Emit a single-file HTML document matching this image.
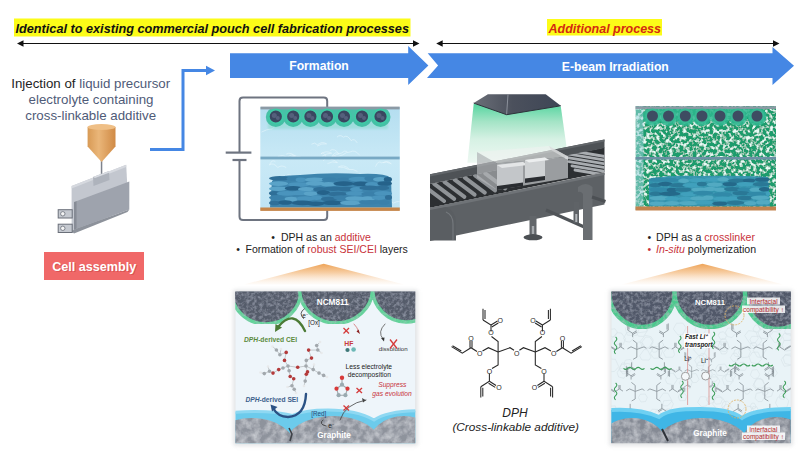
<!DOCTYPE html>
<html><head><meta charset="utf-8">
<style>
html,body{margin:0;padding:0;background:#fff;}
body{width:800px;height:461px;overflow:hidden;position:relative;font-family:"Liberation Sans",sans-serif;}
svg{position:absolute;left:0;top:0;}
text{font-family:"Liberation Sans",sans-serif;}
</style></head><body>
<svg width="800" height="461" viewBox="0 0 800 461">
<defs>
  <linearGradient id="beam" x1="0" y1="0" x2="0" y2="1">
    <stop offset="0" stop-color="#55d5a0"/>
    <stop offset="0.3" stop-color="#a4e4c6"/>
    <stop offset="0.6" stop-color="#d6f1e4"/>
    <stop offset="1" stop-color="#edf8f2"/>
  </linearGradient>
  <linearGradient id="emit" x1="0" y1="0" x2="1" y2="0">
    <stop offset="0" stop-color="#6b6f78"/>
    <stop offset="0.45" stop-color="#4b505c"/>
    <stop offset="1" stop-color="#3e4656"/>
  </linearGradient>
  <linearGradient id="tri" x1="0" y1="0" x2="0" y2="1">
    <stop offset="0" stop-color="#eea458"/>
    <stop offset="0.45" stop-color="#f7cfa6"/>
    <stop offset="1" stop-color="#fdf3ea" stop-opacity="0.3"/>
  </linearGradient>
  <linearGradient id="elec" x1="0" y1="0" x2="0" y2="1">
    <stop offset="0" stop-color="#b4def0"/>
    <stop offset="0.5" stop-color="#c9e9f6"/>
    <stop offset="1" stop-color="#bfe4f4"/>
  </linearGradient>
  <linearGradient id="noz" x1="0" y1="0" x2="1" y2="0">
    <stop offset="0" stop-color="#d89a55"/>
    <stop offset="0.4" stop-color="#eab679"/>
    <stop offset="1" stop-color="#d08a45"/>
  </linearGradient>
  <filter id="rock" x="0" y="0" width="1" height="1">
    <feTurbulence type="fractalNoise" baseFrequency="0.3" numOctaves="3" seed="11" result="t"/>
    <feColorMatrix in="t" type="matrix" values="0 0 0 0 0.46  0 0 0 0 0.5  0 0 0 0 0.6  1.0 0 0 0 -0.4" result="w"/>
    <feComposite in="w" in2="SourceGraphic" operator="in" result="wc"/>
    <feMerge><feMergeNode in="SourceGraphic"/><feMergeNode in="wc"/></feMerge>
  </filter>
  <filter id="rock2" x="0" y="0" width="1" height="1">
    <feTurbulence type="fractalNoise" baseFrequency="0.15" numOctaves="3" seed="4" result="t"/>
    <feColorMatrix in="t" type="matrix" values="0 0 0 0 0.72  0 0 0 0 0.74  0 0 0 0 0.78  1.2 0 0 0 -0.4" result="w"/>
    <feComposite in="w" in2="SourceGraphic" operator="in" result="wc"/>
    <feMerge><feMergeNode in="SourceGraphic"/><feMergeNode in="wc"/></feMerge>
  </filter>
  <filter id="speck" x="0" y="0" width="1" height="1">
    <feTurbulence type="fractalNoise" baseFrequency="0.3" numOctaves="2" seed="7" result="t"/>
    <feColorMatrix in="t" type="matrix" values="0 0 0 0 0.8  0 0 0 0 0.96  0 0 0 0 0.92  4 0 0 0 -1.85" result="w"/>
    <feComposite in="w" in2="SourceGraphic" operator="in" result="wc"/>
    <feMerge><feMergeNode in="SourceGraphic"/><feMergeNode in="wc"/></feMerge>
  </filter>
  <filter id="soft" x="-0.2" y="-0.2" width="1.4" height="1.4"><feGaussianBlur stdDeviation="1.2"/></filter>
  <filter id="soft2" x="-0.2" y="-0.2" width="1.4" height="1.4"><feGaussianBlur stdDeviation="0.6"/></filter>
  <filter id="shadow" x="-0.1" y="-0.1" width="1.2" height="1.2"><feGaussianBlur stdDeviation="2"/></filter>
  <clipPath id="cL"><rect x="235.3" y="291.5" width="180" height="151.7"/></clipPath>
  <clipPath id="cR"><rect x="611.3" y="291.5" width="179.5" height="151.7"/></clipPath>
  <clipPath id="cFC"><rect x="260.3" y="106" width="139.5" height="104"/></clipPath>
  <clipPath id="cRC"><rect x="635.5" y="106" width="140.5" height="104"/></clipPath>
<g id="dphL">
  <polyline points="498.1,352 498.1,341.6 491.5,336.5"/>
  <polyline points="491,331.5 491,325 483,320"/>
  <line x1="483" y1="320" x2="483" y2="308.7"/><line x1="485" y1="319" x2="485" y2="310"/>
  <line x1="491" y1="325" x2="497.5" y2="321"/><line x1="491.8" y1="327" x2="498.3" y2="323"/>
  <polyline points="498.1,352 488.4,347.7 482.5,351"/>
  <polyline points="477,351.5 471,347.7 462.3,353.1 451.5,346.6"/>
  <line x1="461.3" y1="351" x2="452.5" y2="345.7"/>
  <line x1="470" y1="347.7" x2="470" y2="341"/><line x1="472" y1="347.7" x2="472" y2="341"/>
  <polyline points="498.1,352 510,347.7 514,350.3"/>
  <polyline points="498.1,352 498.1,365 492,368.5"/>
  <polyline points="489.4,373.5 489.4,381.3 480.8,386.7"/>
  <line x1="480.8" y1="386.7" x2="480.8" y2="397.6"/><line x1="482.8" y1="387.7" x2="482.8" y2="396.6"/>
  <line x1="489.4" y1="381.3" x2="496" y2="385.5"/><line x1="488.6" y1="383.2" x2="495.2" y2="387.4"/>
</g>
  <g id="dphF"><use href="#dphL"/><use href="#dphL" transform="translate(1033.4,0) scale(-1,1)"/></g>
</defs>


<rect x="14" y="18.5" width="396.5" height="18" fill="#fcfc18"/>
<text x="15.5" y="33" font-size="12.7" font-weight="bold" font-style="italic" fill="#111">Identical to existing commercial pouch cell fabrication processes</text>
<rect x="547" y="19" width="115" height="16.5" fill="#fcfc18"/>
<text x="548.5" y="32.5" font-size="12.5" font-weight="bold" font-style="italic" fill="#d42a10">Additional process</text>
<g stroke="#111" stroke-width="1.2">
<line x1="22" y1="43.5" x2="414" y2="43.5"/>
<line x1="441" y1="43.5" x2="774" y2="43.5"/>
</g>
<g fill="#111">
<polygon points="17,43.5 23.5,40.3 23.5,46.7"/>
<polygon points="419.5,43.5 413,40.3 413,46.7"/>
<polygon points="436.2,43.5 442.7,40.3 442.7,46.7"/>
<polygon points="779.5,43.5 773,40.3 773,46.7"/>
</g>
<polygon points="230,53.2 408.2,53.2 408.2,46 428.4,65.4 408.2,85 408.2,77.9 230,77.9" fill="#4587e4"/>
<polygon points="427.7,53.2 772.5,53.2 772.5,47 794,65.7 772.5,85 772.5,78 427,78 438.1,65.4" fill="#4587e4"/>
<text x="319" y="70.2" font-size="12.2" font-weight="bold" fill="#fff" text-anchor="middle">Formation</text>
<text x="615.3" y="71" font-size="12.2" font-weight="bold" fill="#fff" text-anchor="middle">E-beam Irradiation</text>


<g font-size="13.3" text-anchor="middle">
<text x="90.7" y="88"><tspan fill="#1e1e1e">Injection of </tspan><tspan fill="#4f5b78">liquid precursor</tspan></text>
<text x="91" y="104" fill="#4f5b78">electrolyte containing</text>
<text x="90.7" y="120" fill="#4f5b78">cross-linkable additive</text>
</g>
<polyline points="150,149.4 183,149.4 183,70.5 208,70.5" fill="none" stroke="#4587e4" stroke-width="3"/>
<polygon points="206,65.8 215,70.5 206,75.2" fill="#4587e4"/>
<!-- nozzle -->
<rect x="100.8" y="158" width="1.5" height="16" fill="#7d828c"/>
<path d="M87.6,127 L87.6,146.5 L101.6,162 L115.5,146.5 L115.5,127 Z" fill="url(#noz)"/>
<ellipse cx="101.5" cy="127" rx="14" ry="3" fill="#efbf86"/>
<!-- pouch cell -->
<polygon points="71.6,186 126.2,164.8 127.5,190 127.5,209 71.6,233" fill="#c3c7cf"/>
<polygon points="71.6,186 126.2,164.8 126.2,167 71.6,188.5" fill="#d6d9df"/>
<polygon points="93,177 109,171 109.5,180 93.5,186" fill="#aeb3bc"/>
<polygon points="93,177 109,171 111,172 95,178" fill="#d9dce2"/>
<polygon points="76.8,201 129.3,181.5 129.3,209.5 76.8,228.5" fill="#9ea3ad"/>
<polygon points="74,202 76.8,201 76.8,228.5 74,230" fill="#878c96"/>
<polygon points="74,202 126.5,182.5 129.3,181.5 76.8,201" fill="#c9cdd4"/>
<polygon points="71.6,231 76.8,228.5 129.3,209.5 127.5,212 74,233.5" fill="#8d929b"/>
<g fill="#c5c9d0" stroke="#6a6f79" stroke-width="1">
<rect x="58.2" y="209.7" width="14" height="8.3"/>
<rect x="58.2" y="224.2" width="14" height="8.3"/>
</g>
<g fill="#f4f4f4" stroke="#6a6f79" stroke-width="0.8">
<circle cx="62.8" cy="213.8" r="2.2"/><circle cx="62.8" cy="228.3" r="2.2"/>
</g>
<!-- cell assembly -->
<rect x="44" y="252" width="100" height="28" fill="#f06868"/>
<text x="94.8" y="271.3" font-size="12.6" font-weight="bold" fill="#c84848" text-anchor="middle" opacity="0.6" transform="translate(0.6,0.6)">Cell assembly</text>
<text x="94.2" y="270.8" font-size="12.6" font-weight="bold" fill="#fff" text-anchor="middle">Cell assembly</text>


<g fill="none" stroke="#6e7480" stroke-width="2">
  <path d="M327.2,107 L327.2,101 Q327.2,97.6 323.8,97.6 L243,97.6 Q239.5,97.6 239.5,101 L239.5,152.6"/>
  <path d="M239.5,160 L239.5,216.5 Q239.5,220 243,220 L323.8,220 Q327.2,220 327.2,216.5 L327.2,210"/>
</g>
<g stroke="#6e7480" stroke-width="2.2">
  <line x1="225.7" y1="152.6" x2="251.4" y2="152.6"/>
  <line x1="232.5" y1="160" x2="246.5" y2="160"/>
</g>
<rect x="260.3" y="107" width="139.5" height="103" fill="url(#elec)"/>
<g clip-path="url(#cFC)">

<path d="M311.5,144.2 q3.0,-2.4 6.0,0.6 q4.6,-3.9 9.1,-0.9 q-4.7,-0.8 -9.4,2.2" stroke="#e6f6fc" stroke-width="0.9" fill="none" opacity="0.7"/>
<path d="M348.0,192.3 q-3.8,0.9 -7.6,3.9 q5.4,-5.7 10.9,-2.7 q-4.5,-6.0 -8.9,-3.0" stroke="#e6f6fc" stroke-width="0.9" fill="none" opacity="0.7"/>
<path d="M338.4,160.2 q-3.3,-6.4 -6.7,-3.4 q3.6,-6.0 7.2,-3.0 q-4.5,-6.2 -9.0,-3.2" stroke="#e6f6fc" stroke-width="0.9" fill="none" opacity="0.7"/>
<path d="M280.7,197.2 q3.0,-4.5 6.1,-1.5 q-4.4,-3.5 -8.7,-0.5 q-4.9,-4.6 -9.8,-1.6" stroke="#e6f6fc" stroke-width="0.9" fill="none" opacity="0.7"/>
<path d="M326.1,157.2 q-2.6,-6.4 -5.1,-3.4 q5.3,-3.6 10.7,-0.6 q-4.7,0.0 -9.5,3.0" stroke="#e6f6fc" stroke-width="0.9" fill="none" opacity="0.7"/>
<path d="M347.2,151.4 q-2.9,-1.3 -5.8,1.7 q-4.7,0.9 -9.3,3.9 q4.6,-1.8 9.2,1.2" stroke="#e6f6fc" stroke-width="0.9" fill="none" opacity="0.7"/>
<path d="M316.4,193.0 q-5.4,-5.2 -10.8,-2.2 q3.6,-1.6 7.2,1.4 q3.7,-6.3 7.5,-3.3" stroke="#e6f6fc" stroke-width="0.9" fill="none" opacity="0.7"/>
<path d="M348.9,168.8 q-5.3,-4.8 -10.6,-1.8 q5.2,-0.5 10.4,2.5 q4.4,-1.0 8.7,2.0" stroke="#e6f6fc" stroke-width="0.9" fill="none" opacity="0.7"/>
<path d="M357.2,142.9 q-3.0,-5.2 -6.0,-2.2 q-3.9,-6.5 -7.8,-3.5 q-3.2,-3.1 -6.4,-0.1" stroke="#e6f6fc" stroke-width="0.9" fill="none" opacity="0.7"/>
<path d="M277.9,156.4 q4.7,-2.2 9.3,0.8 q4.6,-3.9 9.3,-0.9 q3.6,-0.4 7.1,2.6" stroke="#e6f6fc" stroke-width="0.9" fill="none" opacity="0.7"/>
<path d="M285.0,183.5 q-4.9,-6.7 -9.7,-3.7 q4.5,-5.3 9.0,-2.3 q3.7,-4.7 7.4,-1.7" stroke="#e6f6fc" stroke-width="0.9" fill="none" opacity="0.7"/>
<path d="M295.7,156.0 q-3.2,-0.0 -6.4,3.0 q3.3,-4.6 6.7,-1.6 q-4.9,-6.2 -9.8,-3.2" stroke="#e6f6fc" stroke-width="0.9" fill="none" opacity="0.7"/>
<path d="M323.1,160.9 q4.0,-4.7 7.9,-1.7 q3.2,0.5 6.5,3.5 q-5.0,-2.1 -10.0,0.9" stroke="#e6f6fc" stroke-width="0.9" fill="none" opacity="0.7"/>
<path d="M391.8,190.5 q-4.1,-3.7 -8.2,-0.7 q4.0,-2.4 8.0,0.6 q-3.8,-5.2 -7.6,-2.2" stroke="#e6f6fc" stroke-width="0.9" fill="none" opacity="0.7"/>
<path d="M375.5,166.6 q2.9,-6.8 5.9,-3.8 q5.0,-2.0 9.9,1.0 q-4.2,-3.9 -8.3,-0.9" stroke="#e6f6fc" stroke-width="0.9" fill="none" opacity="0.7"/>
<path d="M286.2,167.6 q-4.3,-3.1 -8.5,-0.1 q-4.2,-5.5 -8.4,-2.5 q3.0,-6.3 6.1,-3.3" stroke="#e6f6fc" stroke-width="0.9" fill="none" opacity="0.7"/>
<path d="M347.6,199.9 q-5.1,-1.3 -10.1,1.7 q2.8,-0.6 5.6,2.4 q4.1,-1.6 8.3,1.4" stroke="#e6f6fc" stroke-width="0.9" fill="none" opacity="0.7"/>
<path d="M359.8,155.4 q-4.9,-6.4 -9.8,-3.4 q-3.7,-0.1 -7.3,2.9 q-3.0,0.3 -6.0,3.3" stroke="#e6f6fc" stroke-width="0.9" fill="none" opacity="0.7"/>
<path d="M270.5,127.1 q3.4,-4.4 6.8,-1.4 q-2.5,0.2 -5.1,3.2 q-5.4,0.2 -10.8,3.2" stroke="#e6f6fc" stroke-width="0.9" fill="none" opacity="0.7"/>
<path d="M380.9,202.1 q3.3,-4.2 6.7,-1.2 q3.0,-0.8 6.0,2.2 q4.8,-3.1 9.6,-0.1" stroke="#e6f6fc" stroke-width="0.9" fill="none" opacity="0.7"/>
<rect x="268" y="119" width="120" height="10" fill="#7fd8c4" opacity="0.45" filter="url(#soft)"/>

<g fill="#36bc9c" filter="url(#soft2)" opacity="0.85"><circle cx="275.8" cy="117" r="10"/><circle cx="293.2" cy="117" r="10"/><circle cx="310.4" cy="117" r="10"/><circle cx="327" cy="117" r="10"/><circle cx="344" cy="117" r="10"/><circle cx="362" cy="117" r="10"/><circle cx="380.5" cy="117" r="10"/><rect x="276" y="108" width="104" height="10"/></g>
<rect x="260.3" y="106.6" width="139.5" height="2.8" fill="#8c9aa5"/>
<g fill="#3a4760" stroke="#3fcaa6" stroke-width="1.8">

<circle cx="275.8" cy="116.5" r="7"/>
<circle cx="293.2" cy="116.5" r="7"/>
<circle cx="310.4" cy="116.5" r="7"/>
<circle cx="327" cy="116.5" r="7"/>
<circle cx="344" cy="116.5" r="7"/>
<circle cx="362" cy="116.5" r="7"/>
<circle cx="380.5" cy="116.5" r="7"/>
</g><g fill="#55607c">
<circle cx="274.3" cy="115.5" r="2.5"/><circle cx="277.8" cy="118" r="2"/>
<circle cx="291.7" cy="115.5" r="2.5"/><circle cx="295.2" cy="118" r="2"/>
<circle cx="308.9" cy="115.5" r="2.5"/><circle cx="312.4" cy="118" r="2"/>
<circle cx="325.5" cy="115.5" r="2.5"/><circle cx="329" cy="118" r="2"/>
<circle cx="342.5" cy="115.5" r="2.5"/><circle cx="346" cy="118" r="2"/>
<circle cx="360.5" cy="115.5" r="2.5"/><circle cx="364" cy="118" r="2"/>
<circle cx="379.0" cy="115.5" r="2.5"/><circle cx="382.5" cy="118" r="2"/>
</g>

<rect x="260.3" y="156.6" width="139.5" height="2.8" fill="#78a9c4"/>
<path d="M272,181 Q278,175 300,175 Q330,172 360,174 Q385,173 391,178 L392,207.5 L270,207.5 Z" fill="#3d84ad"/>

<ellipse cx="279.7" cy="178.3" rx="10.7" ry="2.3" fill="#2f6f98"/>
<ellipse cx="292.4" cy="178.6" rx="6.0" ry="2.3" fill="#3a80aa"/>
<ellipse cx="300.8" cy="179.8" rx="5.2" ry="2.3" fill="#4a94bd"/>
<ellipse cx="314.7" cy="179.7" rx="9.8" ry="2.3" fill="#5aa3c8"/>
<ellipse cx="329.5" cy="179.6" rx="7.7" ry="2.3" fill="#3a80aa"/>
<ellipse cx="343.7" cy="179.7" rx="7.2" ry="2.3" fill="#3a80aa"/>
<ellipse cx="358.7" cy="179.1" rx="10.3" ry="2.3" fill="#4a94bd"/>
<ellipse cx="369.5" cy="178.5" rx="5.1" ry="2.3" fill="#3a80aa"/>
<ellipse cx="380.2" cy="179.3" rx="7.2" ry="2.3" fill="#5aa3c8"/>
<ellipse cx="387.9" cy="179.4" rx="4.1" ry="2.3" fill="#25628a"/>
<ellipse cx="278.6" cy="183.6" rx="9.6" ry="2.3" fill="#5aa3c8"/>
<ellipse cx="298.8" cy="184.5" rx="10.8" ry="2.3" fill="#4a94bd"/>
<ellipse cx="315.1" cy="183.4" rx="9.4" ry="2.3" fill="#5aa3c8"/>
<ellipse cx="328.5" cy="184.3" rx="8.0" ry="2.3" fill="#5aa3c8"/>
<ellipse cx="343.7" cy="183.6" rx="10.3" ry="2.3" fill="#25628a"/>
<ellipse cx="360.6" cy="183.8" rx="8.3" ry="2.3" fill="#25628a"/>
<ellipse cx="372.0" cy="184.4" rx="6.9" ry="2.3" fill="#4a94bd"/>
<ellipse cx="384.7" cy="183.5" rx="7.3" ry="2.3" fill="#25628a"/>
<ellipse cx="278.2" cy="188.7" rx="9.2" ry="2.3" fill="#5aa3c8"/>
<ellipse cx="293.4" cy="188.3" rx="8.7" ry="2.3" fill="#25628a"/>
<ellipse cx="306.1" cy="189.2" rx="8.1" ry="2.3" fill="#5aa3c8"/>
<ellipse cx="320.1" cy="189.3" rx="7.0" ry="2.3" fill="#2f6f98"/>
<ellipse cx="333.2" cy="188.7" rx="9.5" ry="2.3" fill="#2f6f98"/>
<ellipse cx="345.9" cy="189.0" rx="8.6" ry="2.3" fill="#2f6f98"/>
<ellipse cx="356.6" cy="189.3" rx="6.6" ry="2.3" fill="#4a94bd"/>
<ellipse cx="369.8" cy="187.9" rx="10.4" ry="2.3" fill="#2f6f98"/>
<ellipse cx="382.7" cy="187.9" rx="6.5" ry="2.3" fill="#2f6f98"/>
<ellipse cx="274.2" cy="193.2" rx="5.2" ry="2.3" fill="#2f6f98"/>
<ellipse cx="287.2" cy="193.4" rx="10.6" ry="2.3" fill="#4a94bd"/>
<ellipse cx="300.0" cy="192.8" rx="8.5" ry="2.3" fill="#4a94bd"/>
<ellipse cx="310.7" cy="193.6" rx="7.1" ry="2.3" fill="#5aa3c8"/>
<ellipse cx="323.4" cy="192.6" rx="6.7" ry="2.3" fill="#25628a"/>
<ellipse cx="337.5" cy="194.0" rx="9.6" ry="2.3" fill="#2f6f98"/>
<ellipse cx="355.9" cy="193.4" rx="10.2" ry="2.3" fill="#4a94bd"/>
<ellipse cx="370.3" cy="193.9" rx="9.0" ry="2.3" fill="#3a80aa"/>
<ellipse cx="383.0" cy="193.4" rx="9.0" ry="2.3" fill="#4a94bd"/>
<ellipse cx="276.9" cy="197.6" rx="7.9" ry="2.3" fill="#3a80aa"/>
<ellipse cx="291.2" cy="199.0" rx="6.6" ry="2.3" fill="#5aa3c8"/>
<ellipse cx="305.6" cy="198.5" rx="9.2" ry="2.3" fill="#4a94bd"/>
<ellipse cx="316.5" cy="197.6" rx="5.8" ry="2.3" fill="#4a94bd"/>
<ellipse cx="329.0" cy="199.0" rx="8.0" ry="2.3" fill="#2f6f98"/>
<ellipse cx="341.0" cy="197.5" rx="7.7" ry="2.3" fill="#3a80aa"/>
<ellipse cx="354.9" cy="198.5" rx="9.7" ry="2.3" fill="#5aa3c8"/>
<ellipse cx="367.8" cy="198.6" rx="7.5" ry="2.3" fill="#5aa3c8"/>
<ellipse cx="378.9" cy="197.6" rx="7.3" ry="2.3" fill="#4a94bd"/>
<ellipse cx="388.5" cy="197.4" rx="3.5" ry="2.3" fill="#2f6f98"/>
<ellipse cx="274.6" cy="203.0" rx="5.6" ry="2.3" fill="#2f6f98"/>
<ellipse cx="285.3" cy="202.5" rx="6.9" ry="2.3" fill="#25628a"/>
<ellipse cx="302.6" cy="202.9" rx="10.8" ry="2.3" fill="#25628a"/>
<ellipse cx="315.6" cy="203.7" rx="8.5" ry="2.3" fill="#25628a"/>
<ellipse cx="332.5" cy="202.8" rx="10.5" ry="2.3" fill="#25628a"/>
<ellipse cx="350.5" cy="202.8" rx="10.5" ry="2.3" fill="#5aa3c8"/>
<ellipse cx="369.7" cy="202.2" rx="10.6" ry="2.3" fill="#3a80aa"/>
<ellipse cx="383.9" cy="202.5" rx="5.6" ry="2.3" fill="#3a80aa"/>
</g>
<rect x="260.3" y="207.5" width="139.5" height="3.4" fill="#c6864a"/>
<g font-size="10.5">
<text x="271.3" y="240.5" fill="#222">•</text><text x="281" y="240.5" fill="#222">DPH as an <tspan fill="#c8323a">additive</tspan></text>
<text x="236.3" y="252.8" fill="#222">•</text><text x="245.5" y="252.8" fill="#222">Formation of <tspan fill="#c8323a">robust SEI/CEI</tspan> layers</text>
</g>


<polygon points="473.7,104 560.8,106.5 568.8,162.7 467.4,162.7" fill="url(#beam)"/>
<polygon points="487.9,94.2 545.7,94.2 560.8,105.8 506.6,114.7 473.7,103.1" fill="url(#emit)"/>
<line x1="508" y1="94.5" x2="506.6" y2="114.5" stroke="#9aa0aa" stroke-width="0.8"/>
<polyline points="473.7,103.1 506.6,114.7 560.8,105.8" fill="none" stroke="#2e333b" stroke-width="1"/>
<!-- conveyor bed -->
<polygon points="430,184 604.5,147.5 604.5,172 430,207.8" fill="#2c2f32"/>
<polygon points="430,174.3 604.5,139.5 604.5,148 430,184" fill="#4e5256"/>
<polygon points="430,174.3 604.5,139.5 604.5,141.5 430,176.5" fill="#62666a"/>
<clipPath id="bed"><polygon points="430,184 604.5,147.5 604.5,172 430,207.8"/></clipPath>
<g clip-path="url(#bed)" stroke="#8f9397" stroke-width="4" stroke-linecap="round">

<line x1="424.0" y1="186.0" x2="444.0" y2="201.0"/>
<line x1="434.2" y1="183.9" x2="454.2" y2="198.9"/>
<line x1="444.4" y1="181.8" x2="464.4" y2="196.8"/>
<line x1="454.6" y1="179.7" x2="474.6" y2="194.7"/>
<line x1="464.8" y1="177.6" x2="484.8" y2="192.6"/>
<line x1="475.0" y1="175.5" x2="495.0" y2="190.5"/>
<line x1="485.2" y1="173.4" x2="505.2" y2="188.4"/>
<line x1="560.0" y1="149.0" x2="608.0" y2="157.0" stroke="#a9adb1" stroke-width="2.8"/>
<line x1="563.0" y1="153.2" x2="611.0" y2="161.2" stroke="#a9adb1" stroke-width="2.8"/>
<line x1="566.0" y1="157.4" x2="614.0" y2="165.4" stroke="#a9adb1" stroke-width="2.8"/>
<line x1="569.0" y1="161.6" x2="617.0" y2="169.6" stroke="#a9adb1" stroke-width="2.8"/>
<line x1="572.0" y1="165.8" x2="620.0" y2="173.8" stroke="#a9adb1" stroke-width="2.8"/>
<line x1="575.0" y1="170.0" x2="623.0" y2="178.0" stroke="#a9adb1" stroke-width="2.8"/>
</g>

<!-- transparent box on conveyor -->
<polygon points="477,152 549,146 568,156.5 497,163.5" fill="#eef1f0" opacity="0.6"/>
<polygon points="477,152 497,163.5 497,190 477,178" fill="#b0b4b7" opacity="0.7"/>
<polygon points="497,163.5 568,156.5 568,178 497,190" fill="#dfe2e3" opacity="0.62"/>
<polygon points="497,165 523,162 523,184.5 497,188" fill="#c3c6c9"/>
<polygon points="497,165 523,162 528,165 502,168" fill="#e4e6e7"/>
<polygon points="525,160 545,157.5 545,179 525,182" fill="#cfd2d4"/>
<polygon points="525,160 545,157.5 549,160 529,162.5" fill="#eceeef"/>
<polygon points="497,186 523,182.5 523,186 497,190" fill="#2a2d31"/>
<polygon points="525,178.5 545,176 545,180 525,183" fill="#2a2d31"/>
<polygon points="549,146 568,156.5 568,160 551,150" fill="#d8dadb" opacity="0.7"/>
<!-- front rail -->
<polygon points="430,207.8 604.5,172.4 604.5,204.5 430,241" fill="#5d6165"/>
<polygon points="430,207.8 604.5,172.4 604.5,175 430,210.5" fill="#6f7377"/>
<!-- legs -->
<path d="M430,210 L446,207 Q456,212 456,222 L456,240.5 L430,240.5 Z" fill="#5a5e62"/>
<path d="M446,212 Q453,215 453,224 L453,240" fill="none" stroke="#74787c" stroke-width="1.2"/>
<rect x="529.5" y="216" width="7" height="19" fill="#62666a"/>
<rect x="531.8" y="226" width="2.4" height="8" fill="#a6aaae"/>
<ellipse cx="533" cy="237.3" rx="9.5" ry="3" fill="#4c5054"/>
<line x1="546" y1="210" x2="586.5" y2="228" stroke="#505458" stroke-width="3.2"/>
<rect x="573.5" y="202" width="5.5" height="21" fill="#5f6367"/>
<rect x="575.3" y="214" width="2" height="8" fill="#b6babe"/>
<path d="M578,187 Q586,181 592.5,187 L592.5,240 L583,240 L583,194 Q581,191 578,192 Z" fill="#6a6e72"/>
<line x1="592" y1="197" x2="605.5" y2="201.5" stroke="#4c5054" stroke-width="3"/>


<g clip-path="url(#cRC)">
<rect x="635.5" y="106" width="140.5" height="104" fill="#1f9c6c" filter="url(#speck)"/>
<rect x="635.5" y="106" width="8" height="104" fill="#9ad6dc" opacity="0.55"/>
<g fill="#2fb890" filter="url(#soft2)" opacity="0.85"><circle cx="652.5" cy="116.5" r="9.5"/><circle cx="668.5" cy="116.5" r="9.5"/><circle cx="685.3" cy="116.5" r="9.5"/><circle cx="702" cy="116.5" r="9.5"/><circle cx="720" cy="116.5" r="9.5"/><circle cx="738" cy="116.5" r="9.5"/><circle cx="757" cy="116.5" r="9.5"/><rect x="652" y="108" width="105" height="9"/></g>
</g>
<rect x="635.5" y="106.3" width="140.5" height="2.6" fill="#8c9aa5"/>
<g fill="#3e4c62" stroke="#38b894" stroke-width="2">

<circle cx="652.5" cy="116" r="6.5"/>
<circle cx="668.5" cy="116" r="6.5"/>
<circle cx="685.3" cy="116" r="6.5"/>
<circle cx="702" cy="116" r="6.5"/>
<circle cx="720" cy="116" r="6.5"/>
<circle cx="738" cy="116" r="6.5"/>
<circle cx="757" cy="116" r="6.5"/>
</g>

<rect x="635.5" y="157" width="140.5" height="2.6" fill="#6a90a4"/>
<path d="M649,180 Q660,175 700,176 Q740,175 768,177 L770,206.5 L649,206.5 Z" fill="#3592b0" opacity="0.95"/>

<ellipse cx="656.8" cy="179.6" rx="7.8" ry="2.2" fill="#3189a8"/>
<ellipse cx="669.8" cy="180.0" rx="9.1" ry="2.2" fill="#3189a8"/>
<ellipse cx="683.8" cy="180.7" rx="5.5" ry="2.2" fill="#52aac2"/>
<ellipse cx="697.7" cy="180.3" rx="9.4" ry="2.2" fill="#40a0bc"/>
<ellipse cx="713.3" cy="179.5" rx="9.4" ry="2.2" fill="#40a0bc"/>
<ellipse cx="723.1" cy="179.3" rx="5.8" ry="2.2" fill="#52aac2"/>
<ellipse cx="737.6" cy="180.7" rx="9.7" ry="2.2" fill="#2a7896"/>
<ellipse cx="749.0" cy="180.6" rx="6.3" ry="2.2" fill="#24698a"/>
<ellipse cx="762.3" cy="179.6" rx="7.7" ry="2.2" fill="#24698a"/>
<ellipse cx="655.2" cy="185.2" rx="6.2" ry="2.2" fill="#2a7896"/>
<ellipse cx="665.2" cy="184.0" rx="7.3" ry="2.2" fill="#24698a"/>
<ellipse cx="678.5" cy="185.3" rx="9.4" ry="2.2" fill="#2a7896"/>
<ellipse cx="691.9" cy="185.2" rx="9.6" ry="2.2" fill="#40a0bc"/>
<ellipse cx="701.9" cy="184.0" rx="5.0" ry="2.2" fill="#2a7896"/>
<ellipse cx="714.7" cy="184.6" rx="8.0" ry="2.2" fill="#52aac2"/>
<ellipse cx="729.9" cy="184.1" rx="7.5" ry="2.2" fill="#24698a"/>
<ellipse cx="745.6" cy="184.1" rx="9.2" ry="2.2" fill="#40a0bc"/>
<ellipse cx="761.3" cy="184.2" rx="8.7" ry="2.2" fill="#2a7896"/>
<ellipse cx="659.1" cy="189.6" rx="10.1" ry="2.2" fill="#3189a8"/>
<ellipse cx="671.9" cy="189.9" rx="5.2" ry="2.2" fill="#24698a"/>
<ellipse cx="683.3" cy="189.6" rx="8.7" ry="2.2" fill="#2a7896"/>
<ellipse cx="699.3" cy="189.6" rx="8.1" ry="2.2" fill="#52aac2"/>
<ellipse cx="710.1" cy="189.0" rx="7.1" ry="2.2" fill="#52aac2"/>
<ellipse cx="720.0" cy="189.6" rx="6.2" ry="2.2" fill="#52aac2"/>
<ellipse cx="732.5" cy="189.1" rx="8.6" ry="2.2" fill="#2a7896"/>
<ellipse cx="744.8" cy="189.7" rx="7.7" ry="2.2" fill="#3189a8"/>
<ellipse cx="756.0" cy="189.7" rx="6.7" ry="2.2" fill="#52aac2"/>
<ellipse cx="764.4" cy="189.2" rx="5.6" ry="2.2" fill="#24698a"/>
<ellipse cx="655.5" cy="193.7" rx="6.5" ry="2.2" fill="#2a7896"/>
<ellipse cx="669.8" cy="193.8" rx="10.8" ry="2.2" fill="#24698a"/>
<ellipse cx="688.6" cy="194.1" rx="8.4" ry="2.2" fill="#40a0bc"/>
<ellipse cx="702.9" cy="193.0" rx="10.1" ry="2.2" fill="#3189a8"/>
<ellipse cx="722.4" cy="194.5" rx="9.9" ry="2.2" fill="#3189a8"/>
<ellipse cx="740.9" cy="193.1" rx="8.6" ry="2.2" fill="#2a7896"/>
<ellipse cx="756.4" cy="194.0" rx="9.7" ry="2.2" fill="#3189a8"/>
<ellipse cx="767.9" cy="193.8" rx="2.1" ry="2.2" fill="#40a0bc"/>
<ellipse cx="659.8" cy="198.1" rx="10.8" ry="2.2" fill="#52aac2"/>
<ellipse cx="672.4" cy="198.7" rx="7.5" ry="2.2" fill="#40a0bc"/>
<ellipse cx="686.1" cy="198.7" rx="7.3" ry="2.2" fill="#40a0bc"/>
<ellipse cx="698.8" cy="198.4" rx="8.6" ry="2.2" fill="#52aac2"/>
<ellipse cx="708.1" cy="197.8" rx="5.3" ry="2.2" fill="#52aac2"/>
<ellipse cx="722.6" cy="198.8" rx="9.9" ry="2.2" fill="#40a0bc"/>
<ellipse cx="733.0" cy="198.4" rx="5.1" ry="2.2" fill="#40a0bc"/>
<ellipse cx="745.1" cy="197.9" rx="8.3" ry="2.2" fill="#2a7896"/>
<ellipse cx="760.4" cy="197.7" rx="9.6" ry="2.2" fill="#52aac2"/>
<ellipse cx="657.5" cy="203.6" rx="8.5" ry="2.2" fill="#52aac2"/>
<ellipse cx="671.8" cy="203.2" rx="8.1" ry="2.2" fill="#52aac2"/>
<ellipse cx="689.2" cy="203.1" rx="10.3" ry="2.2" fill="#52aac2"/>
<ellipse cx="704.5" cy="202.4" rx="9.3" ry="2.2" fill="#40a0bc"/>
<ellipse cx="719.9" cy="203.6" rx="7.7" ry="2.2" fill="#24698a"/>
<ellipse cx="735.4" cy="202.8" rx="9.1" ry="2.2" fill="#2a7896"/>
<ellipse cx="750.2" cy="203.2" rx="6.4" ry="2.2" fill="#52aac2"/>
<ellipse cx="761.4" cy="202.3" rx="5.2" ry="2.2" fill="#52aac2"/>
<ellipse cx="766.8" cy="202.3" rx="3.2" ry="2.2" fill="#52aac2"/>

<rect x="635.5" y="206.5" width="140.5" height="4" fill="#c3834e"/>
<g font-size="10.5">
<text x="647.5" y="240.5" fill="#222">•</text><text x="656" y="240.5" fill="#222" font-size="10.6">DPH as a <tspan fill="#c8323a">crosslinker</tspan></text>
<text x="647.5" y="253" fill="#c8323a">•</text><text x="656" y="253" fill="#222" font-size="10.6"><tspan fill="#c8323a" font-style="italic">In-situ</tspan> polymerization</text>
</g>
<!-- orange triangles -->
<polygon points="323.7,263.7 244,284.5 404,284.5" fill="url(#tri)"/>
<polygon points="702.5,263.7 622,284.5 783,284.5" fill="url(#tri)"/>


<rect x="233.5" y="290" width="184" height="155.5" fill="#d8dadc" filter="url(#shadow)" opacity="0.8"/>
<g clip-path="url(#cL)">
<rect x="235.3" y="291.5" width="180" height="150" fill="#eef5fa"/>
<rect x="235.3" y="291.5" width="180" height="8" fill="#545c6b"/>
<g fill="#545c6b" stroke="#62d39a" stroke-width="3.5" filter="url(#rock)">
<ellipse cx="266" cy="290" rx="35" ry="34"/>
<ellipse cx="336" cy="289" rx="36.5" ry="34"/>
<ellipse cx="406" cy="288" rx="33.5" ry="34"/>
</g>
<!-- graphite -->
<path d="M235.3,412.3 C255,410.5 278,411.5 292,415.5 C302,411 315,410 328,410 C348,410 362,413 374,420 C384,413 398,411 416,410.7 L416,444 L235.3,444 Z" fill="#6ccbec"/>
<path d="M235.3,412.3 C255,410.5 278,411.5 292,415.5 C302,411 315,410 328,410 C348,410 362,413 374,420 C384,413 398,411 416,410.7" fill="none" stroke="#8ed8f2" stroke-width="3"/>
<g fill="#8e939c" filter="url(#rock2)">
<ellipse cx="252" cy="449" rx="44" ry="31"/>
<ellipse cx="333" cy="445" rx="48" ry="29"/>
<ellipse cx="404" cy="446" rx="36" ry="30"/>
</g>
<path d="M289,428 L292,434 L290,441" stroke="#3e4248" stroke-width="1.6" fill="none"/>
</g>
<g font-size="6.7">
<text x="332.7" y="304.5" fill="#fff" font-weight="bold" font-size="8.2" text-anchor="middle">NCM811</text>
<text x="244" y="342.3" fill="#5b8a3c" font-weight="bold"><tspan font-style="italic">DPH</tspan>-derived CEI</text>
<text x="245.4" y="402.4" fill="#3c5f8c" font-weight="bold"><tspan font-style="italic">DPH</tspan>-derived SEI</text>
<text x="345.6" y="368.8" fill="#222">Less electrolyte</text>
<text x="347.8" y="376.5" fill="#222">decomposition</text>
<text x="378.2" y="386.8" fill="#c8323a" font-style="italic">Suppress</text>
<text x="372.3" y="395.5" fill="#c8323a" font-style="italic">gas evolution</text>
<text x="344.3" y="345.5" fill="#c83a3a" font-weight="bold" font-size="6.8">HF</text>
<text x="378.8" y="350.5" fill="#333" font-size="6.1">dissolution</text>
<text x="334" y="438" fill="#fff" font-weight="bold" font-size="8.2" text-anchor="middle">Graphite</text>
<text x="311.3" y="415.8" fill="#2a4a7a" font-size="6.3">[Red]</text>
<text x="328.2" y="428.3" fill="#222" font-size="6.5">e⁻</text>
<text x="302.3" y="318.3" fill="#222" font-size="6.5">e⁻</text>
<text x="308.3" y="324.6" fill="#222" font-size="6.3">[Ox]</text>
</g>
<g fill="none" stroke-linecap="round">
<path d="M304.4,308.8 Q298,313 303.4,318.5" stroke="#333" stroke-width="0.8"/>
<path d="M305,331 Q294,308 278,327" stroke="#4b7a35" stroke-width="2.4"/>
<polygon points="275,332 282,327.5 275.5,324" fill="#4b7a35"/>
<path d="M306,394 Q305,416 288,417 Q278,417 273,408" stroke="#2b5285" stroke-width="2.4"/>
<polygon points="270.5,404.5 277.5,407 272,411.5" fill="#2b5285"/>
<path d="M323,420 Q318,424 326,426" stroke="#333" stroke-width="0.8"/>
<path d="M354,324 Q357,327 358.5,331" stroke="#d07070" stroke-width="0.8"/>
<path d="M385,324 Q377,332 383,339" stroke="#666" stroke-width="0.9"/>
<path d="M340,420 Q345,404 366,400" stroke="#444" stroke-width="0.8"/>
</g>
<g stroke="#d43a3a" stroke-width="1.3">
<line x1="343.5" y1="328" x2="349" y2="333.5"/><line x1="349" y1="328" x2="343.5" y2="333.5"/>
<line x1="356.5" y1="388" x2="362" y2="393"/><line x1="362" y1="388" x2="356.5" y2="393"/>
<line x1="343.5" y1="405.5" x2="349" y2="410.5"/><line x1="349" y1="405.5" x2="343.5" y2="410.5"/>
<line x1="390" y1="339.5" x2="397" y2="348.5"/><line x1="397" y1="339.5" x2="390" y2="348.5"/>
</g>
<circle cx="347.5" cy="350" r="2.1" fill="#3e7878"/><circle cx="353.6" cy="349.5" r="2.3" fill="#6cb8b6"/>
<!-- EC ring -->
<g stroke="#a0a8ac" stroke-width="1.1" fill="none"><polygon points="342.0,384.7 347.5,388.7 345.4,395.2 338.6,395.2 336.5,388.7"/><line x1="342.0" y1="384.7" x2="342.0" y2="377.7"/></g>
<circle cx="342" cy="377.7" r="2.2" fill="#d83a3a"/><circle cx="342.0" cy="384.7" r="2.1" fill="#9aaab0"/><circle cx="347.5" cy="388.7" r="2.1" fill="#d83a3a"/><circle cx="345.4" cy="395.2" r="2.1" fill="#9aaab0"/><circle cx="338.6" cy="395.2" r="2.1" fill="#9aaab0"/><circle cx="336.5" cy="388.7" r="2.1" fill="#d83a3a"/>
<polygon points="366,400.3 362,398 363,402.5" fill="#444"/>
<polygon points="360,334 356.5,331.5 358.5,329.5" fill="#8a2020"/>
<polygon points="384,341.5 381,338 384.5,337.5" fill="#333"/>

<g stroke="#c4c9cc" stroke-width="1" fill="none">
<polyline points="288,366 284.5,360.4 286.2,352.4 279.9,354.7 276.4,350 272.5,346.5"/>
<polyline points="288,366 283,368 278.7,369.6 273,373.1 269.5,371.3 264.3,373.6 260.5,372.5"/>
<polyline points="288,366 289.1,370.8 290.2,376.5 293.7,378.8 292,385.7 294.2,389.2 296,393"/>
<polyline points="288,366 297.7,367.3 306,366"/>
<polyline points="306,366 306.3,360.4 311.5,358.1 308.6,350.1 317.8,350 316.7,345.5 320,342"/>
<polyline points="306,366 313.2,369.6 319,373.1 323.6,375.4 327,377"/>
<polyline points="306,366 307.5,371.9 306.3,374.2 305.2,381.1 304,386"/>
<polyline points="279.9,354.7 281,349"/>
<polyline points="269.5,371.3 268,366.5"/>
<polyline points="313.2,369.6 314,364.5"/>
<polyline points="292,385.7 287.5,387"/>
<polyline points="317.8,350 321.5,353"/>
</g>
<circle cx="288" cy="366" r="1.8" fill="#a2a8ad"/>
<circle cx="284.5" cy="360.4" r="1.8" fill="#b43a3a"/>
<circle cx="286.2" cy="352.4" r="1.8" fill="#b43a3a"/>
<circle cx="279.9" cy="354.7" r="1.8" fill="#a2a8ad"/>
<circle cx="276.4" cy="350" r="1.8" fill="#a2a8ad"/>
<circle cx="272.5" cy="346.5" r="1.3" fill="#e8eaec"/>
<circle cx="283" cy="368" r="1.8" fill="#a2a8ad"/>
<circle cx="278.7" cy="369.6" r="1.8" fill="#b43a3a"/>
<circle cx="273" cy="373.1" r="1.8" fill="#b43a3a"/>
<circle cx="269.5" cy="371.3" r="1.8" fill="#a2a8ad"/>
<circle cx="264.3" cy="373.6" r="1.8" fill="#a2a8ad"/>
<circle cx="260.5" cy="372.5" r="1.3" fill="#e8eaec"/>
<circle cx="289.1" cy="370.8" r="1.8" fill="#a2a8ad"/>
<circle cx="290.2" cy="376.5" r="1.8" fill="#b43a3a"/>
<circle cx="293.7" cy="378.8" r="1.8" fill="#b43a3a"/>
<circle cx="292" cy="385.7" r="1.8" fill="#a2a8ad"/>
<circle cx="294.2" cy="389.2" r="1.8" fill="#a2a8ad"/>
<circle cx="296" cy="393" r="1.3" fill="#e8eaec"/>
<circle cx="297.7" cy="367.3" r="1.8" fill="#b43a3a"/>
<circle cx="306" cy="366" r="1.8" fill="#a2a8ad"/>
<circle cx="306.3" cy="360.4" r="1.8" fill="#a2a8ad"/>
<circle cx="311.5" cy="358.1" r="1.8" fill="#b43a3a"/>
<circle cx="308.6" cy="350.1" r="1.8" fill="#b43a3a"/>
<circle cx="317.8" cy="350" r="1.8" fill="#a2a8ad"/>
<circle cx="316.7" cy="345.5" r="1.8" fill="#a2a8ad"/>
<circle cx="320" cy="342" r="1.3" fill="#e8eaec"/>
<circle cx="313.2" cy="369.6" r="1.8" fill="#a2a8ad"/>
<circle cx="319" cy="373.1" r="1.8" fill="#a2a8ad"/>
<circle cx="323.6" cy="375.4" r="1.8" fill="#a2a8ad"/>
<circle cx="327" cy="377" r="1.3" fill="#e8eaec"/>
<circle cx="307.5" cy="371.9" r="1.8" fill="#b43a3a"/>
<circle cx="306.3" cy="374.2" r="1.8" fill="#b43a3a"/>
<circle cx="305.2" cy="381.1" r="1.8" fill="#a2a8ad"/>
<circle cx="304" cy="386" r="1.3" fill="#e8eaec"/>
<circle cx="281" cy="349" r="1.3" fill="#e8eaec"/>
<circle cx="268" cy="366.5" r="1.3" fill="#e8eaec"/>
<circle cx="314" cy="364.5" r="1.3" fill="#e8eaec"/>
<circle cx="287.5" cy="387" r="1.3" fill="#e8eaec"/>
<circle cx="321.5" cy="353" r="1.3" fill="#e8eaec"/>

<rect x="609.5" y="290" width="183" height="155.5" fill="#d8dadc" filter="url(#shadow)" opacity="0.8"/>
<g clip-path="url(#cR)">
<rect x="611.3" y="291.5" width="179.5" height="151" fill="#e9f3f7"/>

<g stroke="#d6e2e8" stroke-width="0.6" fill="none">
<polygon points="719.9,381.1 716.3,387.6 709.3,386.5 707.6,380.4 709.6,377.2 717.3,376.8"/>
<polygon points="728.9,370.4 725.7,376.1 717.2,375.1 715.2,369.7 718.0,364.8 724.8,364.0"/>
<polygon points="705.7,330.5 703.2,334.3 696.7,333.8 695.0,328.4 697.7,324.9 703.5,325.4"/>
<polygon points="639.0,329.1 636.5,335.4 627.3,335.1 625.3,329.0 627.4,325.0 634.9,323.7"/>
<polygon points="657.7,349.6 656.5,352.0 653.3,352.3 651.7,350.1 652.6,347.3 655.4,346.6"/>
<polygon points="773.2,391.1 771.6,396.2 766.6,397.3 762.9,392.8 764.4,388.6 770.1,387.4"/>
<polygon points="653.1,342.2 650.4,347.2 645.1,347.4 641.9,342.2 645.6,337.1 649.8,337.2"/>
<polygon points="628.1,369.1 626.7,371.6 620.6,371.6 619.3,369.6 621.5,364.3 625.8,364.3"/>
<polygon points="673.4,403.8 670.7,410.0 664.5,409.8 662.2,406.6 663.7,400.8 671.0,400.2"/>
<polygon points="747.0,366.7 745.2,370.3 739.1,370.1 737.8,365.4 739.9,362.6 743.4,362.1"/>
<polygon points="686.7,396.3 685.3,400.5 679.9,400.7 678.2,397.0 679.9,393.9 684.9,393.7"/>
<polygon points="754.2,411.7 750.0,417.9 743.5,416.5 741.7,410.6 745.6,406.1 751.4,406.6"/>
<polygon points="708.5,402.3 706.5,405.8 701.5,406.8 697.6,402.3 700.6,396.6 706.0,396.9"/>
<polygon points="653.3,340.2 648.6,348.5 642.4,347.2 640.0,341.7 645.2,335.3 650.8,336.5"/>
<polygon points="616.7,410.7 613.8,413.9 610.8,414.0 607.7,410.8 608.8,406.3 615.2,405.9"/>
<polygon points="756.9,345.2 754.6,348.8 751.3,348.2 750.1,344.8 752.6,342.2 755.6,342.8"/>
<polygon points="764.4,327.1 762.7,329.2 760.2,329.2 758.5,327.1 759.6,324.0 762.7,323.7"/>
<polygon points="703.9,364.5 702.7,368.4 699.1,369.1 696.5,366.4 698.2,362.3 701.4,361.9"/>
<polygon points="759.8,374.4 758.1,377.8 753.9,378.7 750.3,375.2 752.2,370.1 757.1,369.6"/>
<polygon points="662.5,350.7 659.8,358.0 653.7,358.3 650.2,353.4 654.1,346.7 658.7,346.6"/>
<polygon points="625.5,338.7 623.3,344.4 613.6,344.1 611.7,338.8 616.9,332.7 621.4,333.0"/>
<polygon points="760.7,329.4 758.7,332.2 754.3,331.8 752.9,329.0 755.6,324.9 757.8,324.9"/>
<polygon points="726.9,342.8 725.3,345.2 720.8,344.8 719.5,342.5 721.8,338.5 725.9,339.2"/>
<polygon points="729.3,347.6 725.7,351.5 721.2,351.1 718.2,346.5 719.9,342.0 727.4,341.7"/>
<polygon points="642.6,344.0 641.2,347.3 638.0,347.4 636.4,345.3 637.8,342.0 641.5,342.2"/>
<polygon points="633.4,338.4 629.8,342.1 625.7,341.5 623.5,338.4 626.9,332.3 632.2,333.7"/>
<polygon points="777.4,373.0 774.4,377.0 769.6,375.9 768.3,372.8 770.6,368.9 774.7,368.6"/>
<polygon points="712.4,373.8 709.3,377.9 706.7,377.8 704.1,374.5 705.8,370.6 711.0,370.9"/>
<polygon points="672.1,400.9 667.8,405.8 663.3,405.8 658.9,399.6 663.4,393.1 668.0,393.2"/>
<polygon points="726.0,402.8 723.9,408.3 717.7,409.9 712.6,404.1 716.1,397.5 721.9,397.2"/>
<polygon points="764.7,384.6 762.5,387.9 756.1,388.0 753.8,384.0 756.0,379.1 760.9,378.3"/>
<polygon points="756.0,406.4 755.2,408.2 751.5,408.8 749.8,406.4 752.1,403.0 754.4,403.3"/>
<polygon points="706.9,356.4 705.8,359.9 702.0,360.9 698.9,356.9 701.4,353.3 705.3,353.8"/>
<polygon points="661.0,413.8 659.6,416.6 656.6,417.1 654.5,413.0 656.4,410.9 658.7,410.8"/>
<polygon points="647.3,397.4 645.6,401.5 641.0,402.0 638.4,397.7 640.2,394.3 645.3,394.1"/>
<polygon points="627.7,372.6 624.0,378.3 618.7,377.0 617.1,372.7 619.5,368.7 624.1,368.1"/>
<polygon points="727.3,351.1 726.0,353.8 721.5,354.0 720.0,350.4 720.9,348.5 725.7,348.0"/>
<polygon points="651.1,357.0 649.0,360.1 641.8,359.9 639.6,355.9 644.0,349.6 647.4,349.7"/>
<polygon points="735.9,333.2 732.1,337.5 727.4,336.5 725.4,332.3 727.8,328.1 733.7,328.1"/>
<polygon points="733.5,380.9 729.2,385.7 724.4,384.9 722.0,378.7 725.5,374.6 730.3,374.7"/>
<polygon points="761.6,359.3 757.2,363.9 751.1,362.4 749.2,357.1 752.3,352.4 757.9,352.0"/>
<polygon points="730.4,404.6 727.6,409.5 723.0,408.5 721.7,406.1 723.1,402.1 727.3,401.1"/>
<polygon points="714.3,400.6 713.2,402.7 709.0,403.6 706.3,399.8 708.9,396.2 712.3,396.4"/>
<polygon points="739.3,357.4 738.1,360.4 733.3,361.6 730.3,357.8 732.9,353.3 736.3,353.1"/>
<polygon points="660.4,413.9 656.8,419.4 651.4,418.6 649.3,413.1 652.2,409.2 658.0,409.5"/>
<polygon points="633.0,362.9 631.0,367.3 625.3,366.9 623.9,364.3 625.3,360.2 630.3,359.4"/>
<polygon points="648.1,327.3 646.3,331.7 638.0,332.8 634.9,328.4 638.1,321.4 646.2,322.4"/>
<polygon points="793.2,360.8 791.4,365.2 784.3,366.3 781.1,359.7 784.9,355.0 790.8,355.9"/>
<polygon points="794.5,360.3 790.4,364.8 784.9,363.5 783.1,357.9 785.4,354.5 791.3,354.0"/>
<polygon points="726.6,335.5 725.1,339.0 721.0,339.8 718.2,335.4 719.9,332.4 723.5,331.7"/>
<polygon points="758.5,410.6 757.4,412.9 753.3,413.8 750.8,410.9 753.0,406.6 756.7,406.8"/>
<polygon points="764.8,385.7 761.7,389.7 756.8,390.0 753.0,385.6 757.1,378.6 762.9,379.8"/>
<polygon points="733.5,410.3 731.3,415.4 724.3,416.2 721.2,409.1 725.4,404.7 728.6,404.6"/>
<polygon points="618.8,366.7 614.4,371.5 610.6,371.6 605.8,366.4 610.0,359.0 615.4,359.3"/>
<polygon points="671.5,411.4 669.3,414.4 666.6,413.9 665.5,410.7 666.6,409.0 670.1,408.9"/>
<polygon points="791.7,338.3 790.3,340.4 784.2,340.6 782.5,336.2 784.3,333.2 790.6,333.7"/>
<polygon points="758.3,338.5 755.1,342.9 749.9,343.6 744.7,335.7 748.4,330.7 755.8,331.4"/>
<polygon points="631.5,369.0 629.4,372.9 622.8,373.9 619.1,368.3 622.1,362.8 629.9,363.9"/>
<polygon points="784.4,324.0 780.7,330.4 776.2,329.8 773.7,323.8 777.5,319.9 782.9,321.3"/>
<polygon points="647.5,330.6 643.5,336.5 638.5,336.2 635.3,331.1 639.1,325.1 644.0,325.3"/>
<polygon points="705.9,359.4 703.3,365.7 697.3,365.6 694.7,360.2 698.8,355.3 702.8,355.7"/>
<polygon points="788.6,388.4 786.7,392.0 781.5,392.0 779.7,389.5 782.8,383.9 786.0,384.2"/>
<polygon points="617.4,332.1 614.5,336.9 611.2,336.7 608.9,331.7 610.4,329.3 614.9,328.8"/>
<polygon points="788.8,400.7 787.0,407.1 778.2,407.7 775.5,402.9 777.6,397.4 784.1,395.8"/>
<polygon points="674.5,354.6 672.9,357.2 665.5,357.3 663.5,352.6 667.4,347.5 673.2,349.1"/>
<polygon points="781.8,337.8 779.2,341.8 774.5,342.6 770.0,335.9 773.3,331.5 779.6,332.2"/>
<polygon points="750.1,392.0 747.9,394.2 745.7,394.0 743.9,390.6 746.2,388.1 748.5,388.4"/>
<polygon points="677.6,378.8 673.8,384.8 667.1,383.5 665.3,379.6 669.8,373.3 673.3,373.3"/>
<polygon points="722.4,399.4 720.6,403.7 715.8,404.2 713.2,400.3 715.3,396.1 719.5,395.7"/>
<polygon points="722.2,344.9 719.2,348.9 716.6,348.7 714.1,345.8 716.7,341.2 720.3,341.6"/>
<polygon points="636.5,412.9 635.1,415.5 630.2,415.4 628.9,412.9 631.0,409.1 635.1,409.7"/>
<polygon points="741.9,353.2 739.7,356.6 735.1,356.3 733.6,354.0 734.7,350.0 738.6,348.9"/>
<polygon points="761.9,340.5 757.4,346.5 752.5,345.6 750.0,339.5 751.7,336.4 760.0,336.3"/>
<polygon points="686.1,327.8 682.4,334.7 678.2,335.1 673.3,329.0 676.4,323.3 682.8,323.1"/>
<polygon points="766.3,349.6 761.4,357.4 757.2,357.0 753.2,350.2 758.0,344.5 763.7,345.5"/>
<polygon points="771.2,331.0 767.4,339.1 760.1,338.0 757.8,331.8 762.0,326.5 768.4,327.1"/>
<polygon points="795.2,346.4 793.0,350.2 785.5,351.0 782.1,345.4 784.2,340.3 793.1,340.3"/>
<polygon points="768.1,393.0 765.8,395.6 763.1,395.1 762.0,391.8 764.2,389.5 766.9,390.1"/>
<polygon points="750.6,351.5 748.3,357.0 742.1,357.8 738.5,352.9 740.2,348.0 746.5,346.4"/>
<polygon points="663.8,345.0 661.8,347.4 659.5,347.3 657.7,344.1 659.9,341.6 661.5,341.5"/>
<polygon points="717.7,378.9 715.4,381.5 712.2,381.2 710.5,378.0 713.0,374.6 715.1,374.5"/>
<polygon points="772.9,371.6 770.7,375.9 767.6,376.2 764.6,371.4 766.4,368.7 771.6,369.1"/>
<polygon points="785.9,395.9 784.0,399.5 780.1,398.8 779.1,396.2 780.6,393.6 784.8,393.8"/>
<polygon points="699.1,379.4 696.6,382.4 693.1,382.7 689.7,377.7 691.8,374.0 696.0,373.5"/>
<polygon points="707.0,347.8 703.5,354.9 698.7,355.6 693.5,349.7 697.4,342.8 703.7,343.0"/>
<polygon points="735.7,375.9 731.7,381.9 727.1,381.1 725.0,378.2 728.5,371.5 732.0,371.5"/>
<polygon points="692.3,382.1 689.8,388.7 682.5,389.1 679.3,382.7 682.5,377.8 689.9,378.1"/>
<polygon points="793.9,331.8 790.8,335.3 786.0,334.2 784.7,331.4 786.4,327.3 792.0,327.2"/>
<polygon points="765.0,395.7 762.0,401.6 758.1,401.6 755.1,398.3 756.3,393.4 762.2,392.2"/>
<polygon points="683.0,374.1 680.3,378.4 676.7,378.6 673.6,373.2 676.3,369.7 681.4,370.4"/>
</g>
<g stroke="#858e95" stroke-width="1.35" fill="none">
<use href="#dphF" transform="translate(337.98,138.20) scale(0.6)"/>
<use href="#dphF" transform="translate(441.98,138.20) scale(0.6)"/>
<use href="#dphF" transform="translate(346.31,187.26) scale(0.58)"/>
<use href="#dphF" transform="translate(454.31,187.26) scale(0.58)"/>
<use href="#dphF" transform="translate(467.49,213.15) scale(0.45)"/>
</g>
<g stroke="#3f9e5c" stroke-width="1.1" fill="none">
<path d="M615.6,337 q2.5,2.1 0,4.2 q-2.5,2.1 0,4.2 q2.5,2.1 0,4.2 q-2.5,2.1 0,4.2"/>
<path d="M713.5,332 q2.5,2.1 0,4.2 q-2.5,2.1 0,4.2 q2.5,2.1 0,4.2 q-2.5,2.1 0,4.2"/>
<path d="M778.8,333.5 q2.5,2.1 0,4.2 q-2.5,2.1 0,4.2 q2.5,2.1 0,4.2 q-2.5,2.1 0,4.2"/>
<path d="M615.6,383 q2.5,2.1 0,4.2 q-2.5,2.1 0,4.2 q2.5,2.1 0,4.2 q-2.5,2.1 0,4.2"/>
<path d="M682,381 q2.5,2.1 0,4.2 q-2.5,2.1 0,4.2 q2.5,2.1 0,4.2 q-2.5,2.1 0,4.2"/>
<path d="M713.5,383 q2.5,2.1 0,4.2 q-2.5,2.1 0,4.2 q2.5,2.1 0,4.2 q-2.5,2.1 0,4.2"/>
<path d="M784.4,381 q2.5,2.1 0,4.2 q-2.5,2.1 0,4.2 q2.5,2.1 0,4.2 q-2.5,2.1 0,4.2"/>
<path d="M679.8,336 q2.5,2.1 0,4.2 q-2.5,2.1 0,4.2 q2.5,2.1 0,4.2 q-2.5,2.1 0,4.2"/>
<path d="M623.5,368.4 q2.1,2 4.2,0 q2.1,-2 4.2,0 q2.1,2 4.2,0 q2.1,-2 4.2,0 q2.1,2 4.2,0"/>
<path d="M650.5,368.4 q2.1,2 4.2,0 q2.1,-2 4.2,0 q2.1,2 4.2,0 q2.1,-2 4.2,0 q2.1,2 4.2,0"/>
<path d="M729,365 q2.1,2 4.2,0 q2.1,-2 4.2,0 q2.1,2 4.2,0 q2.1,-2 4.2,0 q2.1,2 4.2,0"/>
<path d="M751.8,365 q2.1,2 4.2,0 q2.1,-2 4.2,0 q2.1,2 4.2,0 q2.1,-2 4.2,0 q2.1,2 4.2,0"/>
</g>
<g stroke="#d8706a" stroke-width="0.6">
<line x1="687.6" y1="326" x2="687.6" y2="405"/>
<line x1="709" y1="326" x2="709" y2="405"/>
</g>

<rect x="611.3" y="291.5" width="179.5" height="9" fill="#515969"/>
<g fill="#515969" stroke="#4cc98e" stroke-width="4.5" filter="url(#rock)">
<ellipse cx="642" cy="292" rx="33" ry="35"/>
<ellipse cx="710" cy="292" rx="35.5" ry="35"/>
<ellipse cx="778" cy="293" rx="33" ry="36"/>
</g>
<path d="M611,410 C630,409 648,412 659,417 C668,410 680,409 700,409 C722,409 734,412 742,418 C750,412 765,409 791,409 L791,443 L611,443 Z" fill="#3fb6e6"/>
<path d="M611,410 C630,409 648,412 659,417 C668,410 680,409 700,409 C722,409 734,412 742,418 C750,412 765,409 791,409" fill="none" stroke="#6fd0f2" stroke-width="4"/>
<g fill="#858a94" filter="url(#rock2)">
<ellipse cx="632" cy="448" rx="36" ry="30"/>
<ellipse cx="702" cy="447" rx="48" ry="29"/>
<ellipse cx="776" cy="447" rx="36" ry="30"/>
</g>
<path d="M662,429 L665,435 L668,441" stroke="#2e3238" stroke-width="2" fill="none"/>
</g>
<text x="710" y="304.5" font-size="7.7" font-weight="bold" fill="#fff" text-anchor="middle">NCM811</text>
<text x="710" y="436" font-size="8.2" font-weight="bold" fill="#fff" text-anchor="middle">Graphite</text>
<rect x="747" y="297.5" width="33" height="7" fill="#fff" opacity="0.85"/>
<rect x="742" y="305.5" width="43" height="7.5" fill="#fff" opacity="0.85"/>
<text x="763.5" y="303.7" font-size="6.5" fill="#b02a30" text-anchor="middle">Interfacial</text>
<text x="763.5" y="311.7" font-size="6.5" fill="#b02a30" text-anchor="middle">compatibility ↑</text>
<rect x="747" y="425.5" width="33" height="7" fill="#fff" opacity="0.85"/>
<rect x="742" y="432.5" width="43" height="7.5" fill="#fff" opacity="0.85"/>
<text x="763.5" y="431.5" font-size="6.5" fill="#b02a30" text-anchor="middle">interfacial</text>
<text x="763.5" y="438.8" font-size="6.5" fill="#b02a30" text-anchor="middle">compatibility ↑</text>
<circle cx="734.5" cy="315.4" r="9.5" fill="none" stroke="#e0b060" stroke-width="0.8" stroke-dasharray="2,1"/>
<circle cx="737" cy="409" r="9" fill="none" stroke="#e0b060" stroke-width="0.8" stroke-dasharray="2,1"/>
<rect x="684" y="333.5" width="26" height="14.5" fill="#fff" opacity="0.9"/>
<text x="685" y="339" font-size="6.3" font-weight="bold" font-style="italic" fill="#222">Fast Li⁺</text>
<text x="685" y="346.5" font-size="6.3" font-weight="bold" font-style="italic" fill="#222">transport</text>
<text x="684.3" y="361" font-size="6.3" fill="#222">Li⁺</text>
<text x="701" y="363" font-size="6.3" fill="#222">Li⁺</text>
<circle cx="685.4" cy="376.3" r="4" fill="#f4f8fa" stroke="#888" stroke-width="0.8"/>
<circle cx="705.6" cy="376" r="4" fill="#f4f8fa" stroke="#888" stroke-width="0.8"/>


<g stroke="#262626" stroke-width="1.05" fill="none"><use href="#dphF"/></g>
<g font-size="7" fill="#2a2a2a" text-anchor="middle">
  <text x="491" y="334.5">O</text><text x="500.3" y="322.5">O</text>
  <text x="479.7" y="355.5">O</text><text x="471" y="341">O</text>
  <text x="516.7" y="356">O</text>
  <text x="489.4" y="373.5">O</text><text x="499" y="390">O</text>
  <text x="542.4" y="334.5">O</text><text x="533.1" y="322.5">O</text>
  <text x="553.7" y="355.5">O</text><text x="562.4" y="341">O</text>
  <text x="544" y="373.5">O</text><text x="534.4" y="390">O</text>
</g>
<text x="515" y="416.6" font-size="12" font-style="italic" fill="#222" text-anchor="middle">DPH</text>
<text x="515.7" y="430.5" font-size="11.8" font-style="italic" fill="#222" text-anchor="middle">(Cross-linkable additive)</text>
</svg>
</body></html>
